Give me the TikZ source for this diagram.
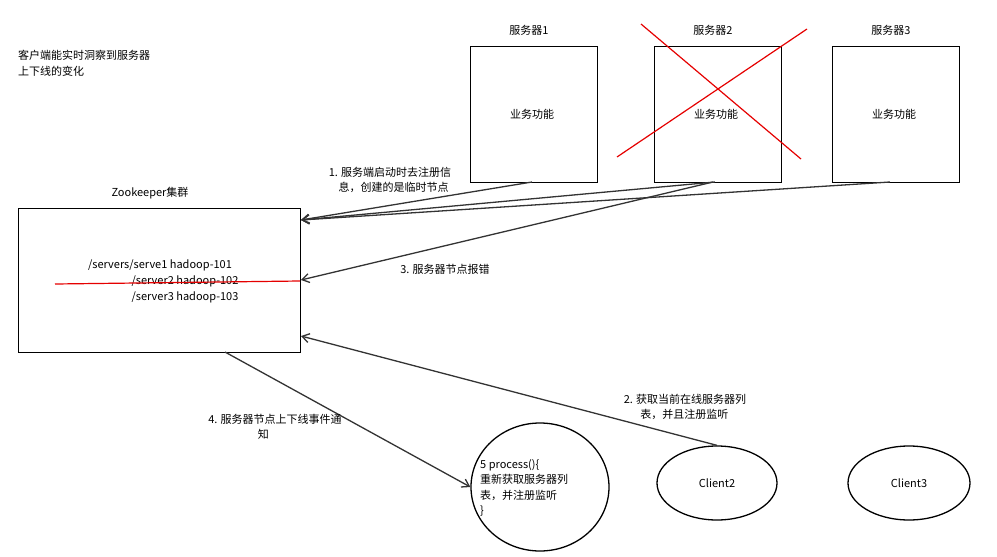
\documentclass[tikz,border=0pt]{standalone}
\usepackage{fontspec}
\setmainfont{Noto Sans CJK SC}
\usetikzlibrary{arrows.meta,shapes.geometric}
\begin{document}
\begin{tikzpicture}[x=1pt,y=-1pt,
  box/.style={draw,line width=1.3pt,inner sep=0},
  lbl/.style={font=\fontsize{11}{15.5}\selectfont,align=left},
  arr/.style={draw=black!80,line width=1.3pt,-{Straight Barb[length=7pt,width=9pt]}},
  rx/.style={draw=red!90!black,line width=1.2pt}]
\useasboundingbox (0,0) rectangle (997,557);
\node[lbl,anchor=north west,inner sep=0] (note) at (18,50) {客户端能实时洞察到服务器\\上下线的变化};
\foreach \n/\x in {1/470,2/654,3/832}{
  \node[box,minimum width=127pt,minimum height=136pt,anchor=north west] (s\n) at (\x,46) {};
  \node[lbl] (t\n) at (\x+62,114) {业务功能};
  \node[lbl] (l\n) at (\x+59,30) {服务器\n};
}
\draw[rx] (641,24) -- (801,159);
\draw[rx] (617,157) -- (807,29);
\node[box,minimum width=282pt,minimum height=144pt,anchor=north west] (zk) at (18,208) {};
\node[lbl] (zkl) at (150,193) {Zookeeper集群};
\node[lbl] (z1) at (160,265) {/servers/serve1 hadoop-101};
\node[lbl] (z2) at (185,281) {/server2 hadoop-102};
\node[lbl] (z3) at (185,297) {/server3 hadoop-103};
\draw[rx] (55,284) -- (300,281);
\coordinate (zin) at (301,220);
\coordinate (zerr) at (301,280);
\coordinate (zc) at (301,336);
\draw[arr] (532,182) -- (zin);
\draw[arr] (715,182) -- (zin);
\draw[arr] (890,182) -- (zin);
\draw[arr] (713,182) -- (zerr);
\node[lbl] (a1) at (390,180) {1. 服务端启动时去注册信\\\hspace*{0.9em}息，创建的是临时节点};
\node[lbl] (a3) at (445,269) {3. 服务器节点报错};
\node[draw,line width=1.3pt,ellipse,minimum width=138pt,minimum height=128pt] (pc) at (540,487) {};
\node[lbl,anchor=west,inner sep=0] (p) at (480,488) {5 process()\{\\重新获取服务器列\\表，并注册监听\\\}};
\node[draw,line width=1.3pt,ellipse,minimum width=120pt,minimum height=74pt] (c2) at (717,483) {};
\node[lbl] at (717,483) {Client2};
\node[draw,line width=1.3pt,ellipse,minimum width=122pt,minimum height=74pt] (c3) at (909,483) {};
\node[lbl] at (909,483) {Client3};
\draw[arr] (c2.north) -- (zc);
\node[lbl] (a2) at (685,407) {2. 获取当前在线服务器列\\\hspace*{1.5em}表，并且注册监听};
\draw[arr] (225,352) -- (pc.west);
\node[lbl] (a4) at (275,427) {4. 服务器节点上下线事件通\\\hspace*{4.5em}知};
\end{tikzpicture}
\end{document}
